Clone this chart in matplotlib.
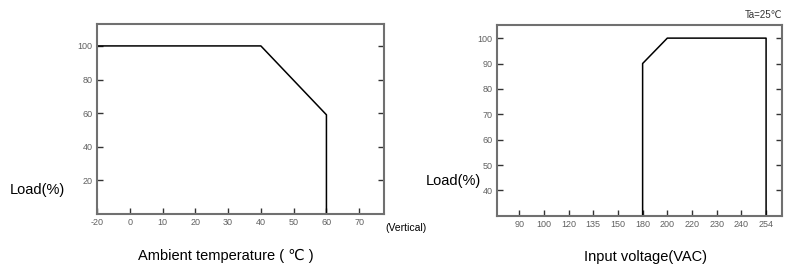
import matplotlib
matplotlib.use("Agg")
import matplotlib.pyplot as plt

plt.rcParams['font.family'] = ['Liberation Sans', 'DejaVu Sans']

# derating curve vs ambient temperature
temp_ticks = [-20, 0, 10, 20, 30, 40, 50, 60, 70]
temp_curve = [-20, 40, 60, 60]
temp_load = [100, 100, 59, 0]
temp_yticks = [20, 40, 60, 80, 100]

# derating curve vs input voltage
volt_ticks = [90, 100, 120, 135, 150, 180, 200, 220, 230, 240, 254]
volt_curve = [180, 180, 200, 254, 254]
volt_load = [30, 90, 100, 100, 30]
volt_yticks = [40, 50, 60, 70, 80, 90, 100]

spine_col = '#707070'
tick_col = '#606060'

fig = plt.figure(figsize=(8.08, 2.8), dpi=100)
ax1 = fig.add_axes([0.120, 0.236, 0.355, 0.678])
ax2 = fig.add_axes([0.615, 0.229, 0.353, 0.682])


def style(ax):
    for s in ax.spines.values():
        s.set_color(spine_col)
        s.set_linewidth(1.5)
    ax.tick_params(direction='in', length=4, width=1, color='#333333',
                   labelsize=6.5, labelcolor=tick_col, right=True, top=False,
                   pad=3)


# left chart: categorical x positions
x1 = [temp_ticks.index(t) for t in temp_curve]
ax1.plot(x1, temp_load, color='black', lw=1.1)
ax1.set_xticks(range(len(temp_ticks)))
ax1.set_xticklabels([str(t) for t in temp_ticks])
ax1.set_yticks(temp_yticks)
ax1.set_xlim(0, 8.75)
ax1.set_ylim(0, 113)
style(ax1)

x2 = [volt_ticks.index(v) for v in volt_curve]
ax2.plot(x2, volt_load, color='black', lw=1.1)
ax2.set_xticks(range(len(volt_ticks)))
ax2.set_xticklabels([str(v) for v in volt_ticks])
ax2.set_yticks(volt_yticks)
ax2.set_xlim(-0.9, 10.65)
ax2.set_ylim(30, 105.2)
style(ax2)

fig.text(10 / 808, 1 - 190 / 280, "Load(%)", fontsize=10.5, va='center', ha='left')
fig.text(226 / 808, 1 - 256 / 280, "Ambient temperature ( ℃ )", fontsize=10.5,
         va='center', ha='center')
fig.text(385 / 808, 1 - 228 / 280, "(Vertical)", fontsize=7.5, va='center', ha='left')

fig.text(426 / 808, 1 - 181 / 280, "Load(%)", fontsize=10.5, va='center', ha='left')
fig.text(645 / 808, 1 - 257 / 280, "Input voltage(VAC)", fontsize=10.5,
         va='center', ha='center')
fig.text(782 / 808, 1 - 15 / 280, "Ta=25℃", fontsize=7, va='center', ha='right',
         color='#333333')

fig.savefig("out.png", dpi=100)
